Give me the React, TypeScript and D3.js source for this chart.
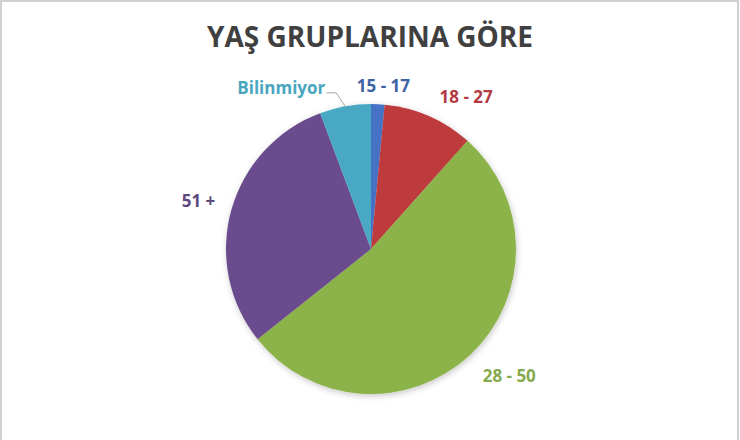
import { useEffect, useRef } from "react";
import * as d3 from "d3";

const width = 740;
const height = 440;

const title = "YAŞ GRUPLARINA GÖRE";

const ageGroups = ["15 - 17", "18 - 27", "28 - 50", "51 +", "Bilinmiyor"];
const shares = [1.5, 10.1, 52.7, 30.0, 5.7];
const sliceColors = ["#4472C4", "#BE3A3E", "#8CB34A", "#6A4C8D", "#48A9C5"];
const labelColors = ["#3E62A4", "#B23B40", "#86AA4E", "#5E4A7E", "#4AA6BF"];

// Excel "best fit" nudges from the label arc
const labelNudge: [number, number][] = [
  [4, 15],
  [24, 11],
  [16, -2],
  [-1, 0],
  [-58, 14],
];

type Slice = { name: string; value: number; i: number };

export default function App() {
  const svgRef = useRef<SVGSVGElement | null>(null);

  useEffect(() => {
    if (!svgRef.current) return;
    const svg = d3.select(svgRef.current);

    const cx = 371;
    const cy = 249;
    const radius = 145;

    const data: Slice[] = ageGroups.map((name, i) => ({ name, value: shares[i], i }));

    const pie = d3
      .pie<Slice>()
      .value((d) => d.value)
      .sort(null);
    const arcs = pie(data);

    const arc = d3.arc<d3.PieArcDatum<Slice>>().innerRadius(0).outerRadius(radius);
    const labelArc = d3
      .arc<d3.PieArcDatum<Slice>>()
      .innerRadius(178)
      .outerRadius(178);

    // 標題
    svg
      .select<SVGTextElement>(".title")
      .attr("x", 370)
      .attr("y", 47)
      .attr("text-anchor", "middle")
      .attr("fill", "#404040")
      .style("font-family", "'Open Sans', sans-serif")
      .style("font-size", "28px")
      .style("font-weight", "700")
      .text(title);

    const g = svg.select<SVGGElement>(".pie").attr("transform", `translate(${cx}, ${cy})`);

    g.selectAll("path.slice")
      .data(arcs)
      .join("path")
      .attr("class", "slice")
      .attr("d", arc)
      .attr("fill", (d) => sliceColors[d.data.i]);

    const labels = svg
      .select<SVGGElement>(".labels")
      .attr("transform", `translate(${cx}, ${cy})`);

    labels
      .selectAll("text")
      .data(arcs)
      .join("text")
      .attr("x", (d) => labelArc.centroid(d)[0] + labelNudge[d.data.i][0])
      .attr("y", (d) => labelArc.centroid(d)[1] + labelNudge[d.data.i][1])
      .attr("dy", "0.35em")
      .attr("text-anchor", "middle")
      .attr("fill", (d) => labelColors[d.data.i])
      .style("font-family", "'Open Sans', sans-serif")
      .style("font-size", "17px")
      .style("font-weight", "700")
      .text((d) => d.data.name);

    // Bilinmiyor leader line
    const last = arcs[arcs.length - 1];
    const mid = (last.startAngle + last.endAngle) / 2;
    const edge: [number, number] = [Math.sin(mid) * radius, -Math.cos(mid) * radius];
    const lc = labelArc.centroid(last);
    const lx = lc[0] + labelNudge[4][0] + 45;
    const ly = lc[1] + labelNudge[4][1] + 5;
    labels
      .selectAll("path.leader")
      .data([0])
      .join("path")
      .attr("class", "leader")
      .attr("d", d3.line()([[lx, ly], [lx + 10, ly], edge]))
      .attr("fill", "none")
      .attr("stroke", "#A6A6A6")
      .attr("stroke-width", 1);
  }, []);

  return (
    <div style={{ position: "fixed", left: 0, top: 0 }}>
      <svg ref={svgRef} width={width} height={height} style={{ display: "block", background: "#fff" }}>
        <defs>
          <filter id="pieShadow" x="-20%" y="-20%" width="140%" height="140%">
            <feDropShadow dx="1" dy="2" stdDeviation="3" floodColor="#000" floodOpacity="0.22" />
          </filter>
        </defs>
        <path d={`M1,${height} V1 H${width - 2} V${height}`} fill="none" stroke="#D0D0D0" strokeWidth={2} />
        <text className="title" />
        <g className="pie" filter="url(#pieShadow)" />
        <g className="labels" />
      </svg>
    </div>
  );
}
